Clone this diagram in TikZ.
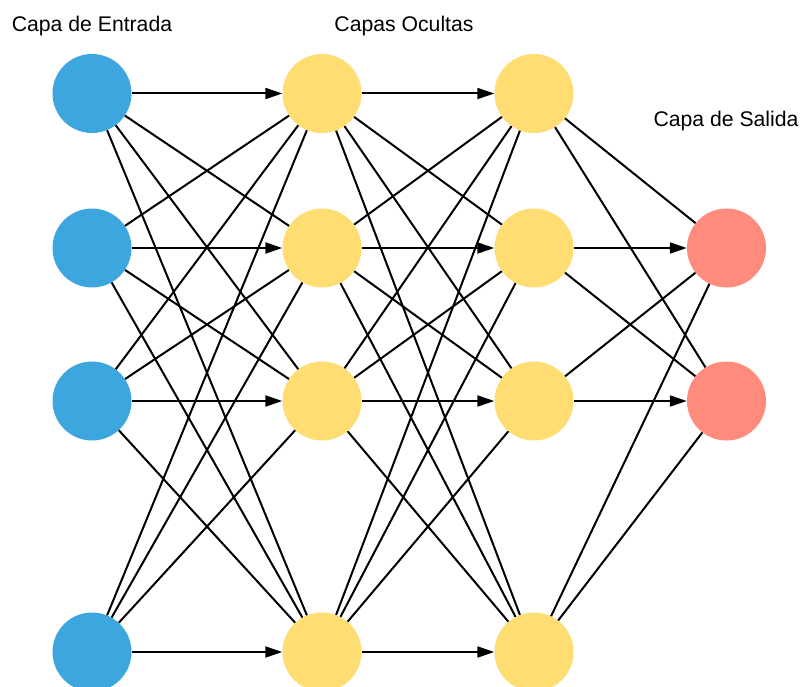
\documentclass[tikz,border=0pt]{standalone}
\usepackage{fontspec}
\setmainfont{Liberation Sans}
\usetikzlibrary{arrows.meta}
\definecolor{inblue}{RGB}{61,166,222}
\definecolor{hidyel}{RGB}{255,221,115}
\definecolor{outred}{RGB}{255,139,125}
\tikzset{
  neuron/.style={circle, minimum size=79pt, inner sep=0pt, draw=none},
  inneuron/.style={neuron, fill=inblue},
  hidneuron/.style={neuron, fill=hidyel},
  outneuron/.style={neuron, fill=outred},
  link/.style={line width=2pt, black},
  harrow/.style={link, -{Triangle[length=17pt,width=11pt]}},
  layerlabel/.style={font=\fontsize{21.2}{25}\selectfont, anchor=base, inner sep=0pt}
}
\begin{document}
\begin{tikzpicture}[x=1pt,y=-1pt]
\useasboundingbox (0,0) rectangle (803,687);
\clip (0,0) rectangle (803,687);
\fill[white] (0,0) rectangle (803,687);

\node[layerlabel] (lin) at (92,32) {Capa de Entrada};
\node[layerlabel] (lhid) at (404,32) {Capas Ocultas};
\node[layerlabel] (lout) at (726,127) {Capa de Salida};

\foreach \i/\y in {1/93.5,2/248,3/401,4/652}{
  \node[inneuron] (i\i) at (92,\y) {};
  \node[hidneuron] (a\i) at (322,\y) {};
  \node[hidneuron] (b\i) at (534,\y) {};
}
\node[outneuron] (o2) at (726.5,248) {};
\node[outneuron] (o3) at (726.5,401) {};

\foreach \s in {1,2,3,4}{
  \foreach \t in {1,2,3,4}{
    \ifnum\s=\t
      \draw[harrow] (i\s) -- (a\t);
      \draw[harrow] (a\s) -- (b\t);
    \else
      \draw[link] (i\s) -- (a\t);
      \draw[link] (a\s) -- (b\t);
    \fi
  }
  \foreach \t in {2,3}{
    \ifnum\s=\t
      \draw[harrow] (b\s) -- (o\t);
    \else
      \draw[link] (b\s) -- (o\t);
    \fi
  }
}
\end{tikzpicture}
\end{document}
